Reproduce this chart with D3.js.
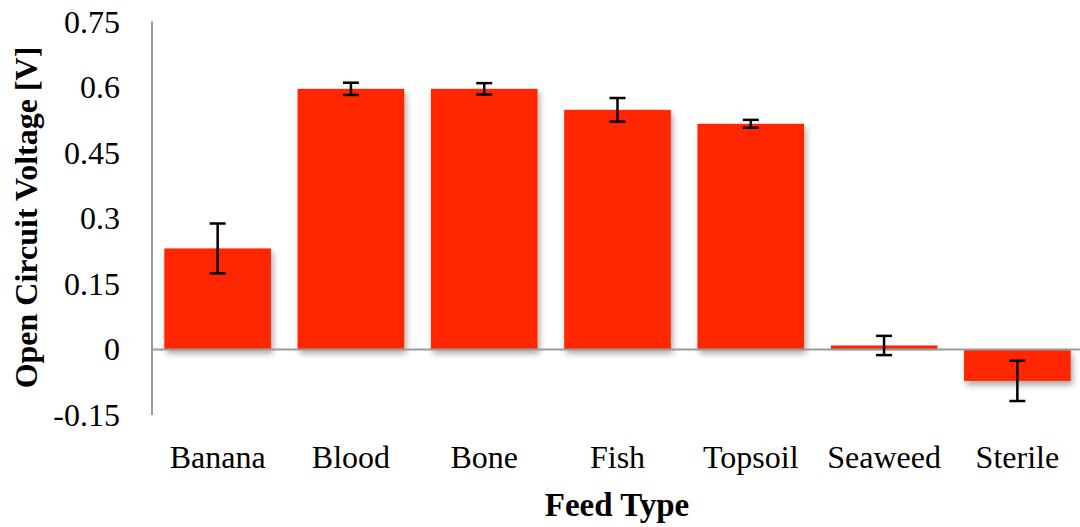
<!DOCTYPE html>
<html>
<head>
<meta charset="utf-8">
<script src="https://cdn.jsdelivr.net/npm/d3@7"></script>
<style>
  html, body { margin: 0; padding: 0; background: #fff; }
  svg { display: block; }
</style>
</head>
<body>
<svg id="chart" width="1080" height="527"></svg>
<script>
const categories = ["Banana", "Blood", "Bone", "Fish", "Topsoil", "Seaweed", "Sterile"];
const voltages   = [0.231, 0.596, 0.596, 0.548, 0.516, 0.009, -0.072];
const errors     = [0.057, 0.014, 0.013, 0.027, 0.009, 0.022, 0.046];
const yTicks     = [-0.15, 0, 0.15, 0.3, 0.45, 0.6, 0.75];
const yTickLabels = ["-0.15", "0", "0.15", "0.3", "0.45", "0.6", "0.75"];

const svg = d3.select("#chart");
const FONT = "'Liberation Serif', 'DejaVu Serif', serif";

const x = d3.scaleBand().domain(categories).range([151, 1084]).paddingInner(0.2).paddingOuter(0.1);
const y = d3.scaleLinear().domain([-0.15, 0.75]).range([415, 21.5]);

const defs = svg.append("defs");
const f = defs.append("filter").attr("id", "shadow").attr("x", "-10%").attr("y", "-10%").attr("width", "130%").attr("height", "140%");
f.append("feDropShadow").attr("dx", 2).attr("dy", 4).attr("stdDeviation", 3).attr("flood-color", "#000").attr("flood-opacity", 0.35);

// bars
svg.append("g").selectAll("rect").data(categories).join("rect")
  .attr("x", d => x(d))
  .attr("width", x.bandwidth())
  .attr("y", (d, i) => y(Math.max(0, voltages[i])))
  .attr("height", (d, i) => Math.abs(y(voltages[i]) - y(0)))
  .attr("fill", "#ff2600")
  .attr("filter", "url(#shadow)");

// zero line
svg.append("line")
  .attr("x1", 151).attr("x2", 1080)
  .attr("y1", y(0)).attr("y2", y(0))
  .attr("stroke", "#9b9b9b").attr("stroke-width", 2);

// y axis
const yAxis = d3.axisLeft(y).tickValues(yTicks).tickSize(0).tickPadding(0)
  .tickFormat((d, i) => yTickLabels[i]);
const gy = svg.append("g").attr("transform", "translate(152,0)").call(yAxis);
gy.select(".domain").attr("stroke", "#9b9b9b").attr("stroke-width", 2).attr("d", `M0,${y(0.75)}V${y(-0.15)}`);
gy.selectAll(".tick text")
  .attr("x", -32)
  .attr("dy", "0.33em")
  .attr("font-family", FONT).attr("font-size", 32).attr("fill", "#000");

// error bars
const eb = svg.append("g").attr("stroke", "#000").attr("stroke-width", 2.5);
categories.forEach((c, i) => {
  const cx = x(c) + x.bandwidth() / 2;
  const hi = y(voltages[i] + errors[i]);
  const lo = y(voltages[i] - errors[i]);
  eb.append("line").attr("x1", cx).attr("x2", cx).attr("y1", hi).attr("y2", lo);
  eb.append("line").attr("x1", cx - 8).attr("x2", cx + 8).attr("y1", hi).attr("y2", hi);
  eb.append("line").attr("x1", cx - 8).attr("x2", cx + 8).attr("y1", lo).attr("y2", lo);
});

// x axis labels
const xAxis = d3.axisBottom(x).tickSize(0).tickPadding(0);
const gx = svg.append("g").attr("transform", "translate(0,468)").call(xAxis);
gx.select(".domain").remove();
gx.selectAll(".tick text")
  .attr("y", 0).attr("dy", 0)
  .attr("font-family", FONT).attr("font-size", 32).attr("fill", "#000");

// axis titles
svg.append("text")
  .attr("x", 617).attr("y", 516)
  .attr("text-anchor", "middle")
  .attr("font-family", FONT).attr("font-weight", "bold").attr("font-size", 33)
  .text("Feed Type");

svg.append("text")
  .attr("transform", "translate(37,217.5) rotate(-90)")
  .attr("text-anchor", "middle")
  .attr("font-family", FONT).attr("font-weight", "bold").attr("font-size", 32)
  .text("Open Circuit Voltage [V]");
</script>
</body>
</html>
